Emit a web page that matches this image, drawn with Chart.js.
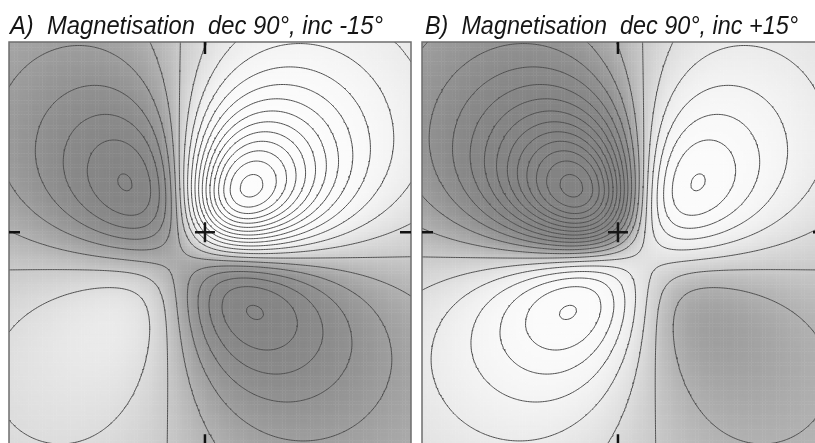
<!DOCTYPE html>
<html>
<head>
<meta charset="utf-8">
<script src="https://cdn.jsdelivr.net/npm/chart.js@4.4.1/dist/chart.umd.min.js"></script>
<style>
  html, body { margin: 0; padding: 0; background: #ffffff; overflow: hidden; width: 815px; height: 443px; }
  #sheet { position: relative; width: 815px; height: 443px; overflow: hidden; }
  .panel { position: absolute; top: 0; height: 443px; }
  #panelA { left: 0; width: 415px; }
  #panelB { left: 415px; width: 400px; }
</style>
</head>
<body>
<div id="sheet">
  <div class="panel" id="panelA"><canvas id="mapA" width="415" height="443"></canvas></div>
  <div class="panel" id="panelB"><canvas id="mapB" width="400" height="443"></canvas></div>
</div>
<script>
// Panel headings
const panelTitles = ['A)  Magnetisation  dec 90°, inc -15°', 'B)  Magnetisation  dec 90°, inc +15°'];

// Magnetisation direction of the buried dipole in each panel (degrees)
const magDeclination = [90, 90];
const magInclination = [-15, 15];

// Direction of the ambient (measured) field component (degrees)
const fieldDeclination = [0, 0];
const fieldInclination = [-15, -15];

// Dipole position on the map (m) and its depth below the surface (m)
const sourceEast = [0, 0];
const sourceNorth = [0, 0];
const sourceDepth = [100, 100];

// Dipole strength mu0*m/(4*pi), in nT·m³
const dipoleStrength = [2.3e8, 2.3e8];

// Map extent (m)
const eastRange = [-175, 184];
const northRange = [-191, 170];

// Contour levels of the total-field anomaly (nT)
const contourLevels = [-130, -120, -110, -100, -90, -80, -70, -60, -50, -40, -30, -20, -10,
                       0, 10, 20, 30, 40, 50, 60, 70, 80, 90, 100, 110, 120, 130];

// ---------------------------------------------------------------------------

// Map width on screen (px) sets the drawing scale shared by both panels
const MAP_WIDTH_PX = 402;
const PX_PER_M = MAP_WIDTH_PX / (eastRange[1] - eastRange[0]);

const RAD = Math.PI / 180;
// unit vector in (east, north, down)
function unitVector(dec, inc) {
  return [Math.cos(inc * RAD) * Math.sin(dec * RAD), Math.cos(inc * RAD) * Math.cos(dec * RAD), Math.sin(inc * RAD)];
}

// Total-field anomaly of a point dipole, projected on the ambient field direction
function anomaly(p, e, n) {
  const m = unitVector(magDeclination[p], magInclination[p]);
  const f = unitVector(fieldDeclination[p], fieldInclination[p]);
  const rx = e - sourceEast[p], ry = n - sourceNorth[p], rz = -sourceDepth[p];
  const r2 = rx * rx + ry * ry + rz * rz;
  const r = Math.sqrt(r2);
  const mr = m[0] * rx + m[1] * ry + m[2] * rz;
  const fr = f[0] * rx + f[1] * ry + f[2] * rz;
  const mf = m[0] * f[0] + m[1] * f[1] + m[2] * f[2];
  return dipoleStrength[p] * (3 * mr * fr - r2 * mf) / (r2 * r2 * r);
}

// grey scale: light for positive, darker for negative anomaly
function grey(v) {
  let g = v >= 0 ? 201 + 51 * Math.tanh(v / 25) : 201 - 70 * Math.tanh(-v / 28);
  g = Math.round(Math.max(0, Math.min(255, g)));
  return 'rgb(' + g + ',' + g + ',' + g + ')';
}

function axisSamples(range, step) {
  const span = range[1] - range[0];
  const count = Math.ceil(span / step) + 1;
  const out = [];
  for (let i = 0; i < count; i++) out.push(range[0] + span * i / (count - 1));
  return out;
}

// Marching squares: returns line segments separated by gaps
function contourPoints(grid, xs, ys, level) {
  const nx = xs.length, ny = ys.length;
  const pts = [];
  const gap = { x: null, y: null };
  for (let j = 0; j < ny - 1; j++) {
    for (let i = 0; i < nx - 1; i++) {
      const v0 = grid[j * nx + i], v1 = grid[j * nx + i + 1];
      const v2 = grid[(j + 1) * nx + i + 1], v3 = grid[(j + 1) * nx + i];
      let idx = 0;
      if (v0 > level) idx |= 1;
      if (v1 > level) idx |= 2;
      if (v2 > level) idx |= 4;
      if (v3 > level) idx |= 8;
      if (idx === 0 || idx === 15) continue;
      const x0 = xs[i], x1 = xs[i + 1], y0 = ys[j], y1 = ys[j + 1];
      const edge = (k) => {
        if (k === 0) { const t = (level - v0) / (v1 - v0); return { x: x0 + t * (x1 - x0), y: y0 }; }
        if (k === 1) { const t = (level - v1) / (v2 - v1); return { x: x1, y: y0 + t * (y1 - y0) }; }
        if (k === 2) { const t = (level - v3) / (v2 - v3); return { x: x0 + t * (x1 - x0), y: y1 }; }
        const t = (level - v0) / (v3 - v0); return { x: x0, y: y0 + t * (y1 - y0) };
      };
      let pairs;
      switch (idx) {
        case 1: case 14: pairs = [[3, 0]]; break;
        case 2: case 13: pairs = [[0, 1]]; break;
        case 3: case 12: pairs = [[3, 1]]; break;
        case 4: case 11: pairs = [[1, 2]]; break;
        case 6: case 9: pairs = [[0, 2]]; break;
        case 7: case 8: pairs = [[2, 3]]; break;
        case 5: {
          const c = (v0 + v1 + v2 + v3) / 4 > level;
          pairs = c ? [[0, 1], [2, 3]] : [[3, 0], [1, 2]];
          break;
        }
        case 10: {
          const c = (v0 + v1 + v2 + v3) / 4 > level;
          pairs = c ? [[3, 0], [1, 2]] : [[0, 1], [2, 3]];
          break;
        }
      }
      for (const [a, b] of pairs) {
        pts.push(edge(a), edge(b), gap);
      }
    }
  }
  return pts;
}

// heading drawn above each map
const panelHeading = {
  id: 'panelHeading',
  afterDraw(chart, args, opts) {
    const ctx = chart.ctx;
    ctx.save();
    ctx.font = 'italic 26px "Liberation Sans", Arial, sans-serif';
    ctx.fillStyle = '#151515';
    ctx.textBaseline = 'alphabetic';
    const w = ctx.measureText(opts.text).width;
    ctx.translate(opts.x, opts.y);
    ctx.scale(opts.width / w, 1);
    ctx.fillText(opts.text, 0, 0);
    ctx.restore();
  }
};

// map frame and the edge ticks marking the dipole's position
const mapFrame = {
  id: 'mapFrame',
  afterDatasetsDraw(chart, args, opts) {
    const ctx = chart.ctx;
    const sx = chart.scales.x, sy = chart.scales.y;
    const left = sx.getPixelForValue(eastRange[0]);
    const right = sx.getPixelForValue(eastRange[1]);
    const top = sy.getPixelForValue(northRange[1]);
    const bottom = sy.getPixelForValue(northRange[0]);
    const cx = sx.getPixelForValue(opts.east);
    const cy = sy.getPixelForValue(opts.north);
    ctx.save();
    ctx.strokeStyle = '#6e6e6e';
    ctx.lineWidth = 1.5;
    ctx.strokeRect(left, top, right - left, bottom - top);
    ctx.strokeStyle = '#111111';
    ctx.lineWidth = 2.5;
    ctx.beginPath();
    ctx.moveTo(cx, top); ctx.lineTo(cx, top + 12);
    ctx.moveTo(cx, bottom); ctx.lineTo(cx, bottom - 12);
    ctx.moveTo(left, cy); ctx.lineTo(left + 11, cy);
    ctx.moveTo(right, cy); ctx.lineTo(right - 11, cy);
    ctx.stroke();
    ctx.restore();
  }
};

function buildPanel(p, canvasId, padding) {
  const canvas = document.getElementById(canvasId);
  // visible part of the map inside this canvas
  const areaW = canvas.width - padding.left - padding.right;
  const areaH = canvas.height - padding.top - padding.bottom;
  const viewEast = [eastRange[0], eastRange[0] + areaW / PX_PER_M];
  const viewNorth = [northRange[1] - areaH / PX_PER_M, northRange[1]];

  // shaded cells
  const cellStep = 2.5;
  const cellXs = axisSamples(eastRange, cellStep);
  const cellYs = axisSamples(northRange, cellStep);
  const cells = [], cellColors = [];
  for (let j = 0; j < cellYs.length - 1; j++) {
    const n = (cellYs[j] + cellYs[j + 1]) / 2;
    for (let i = 0; i < cellXs.length - 1; i++) {
      const e = (cellXs[i] + cellXs[i + 1]) / 2;
      cells.push({ x: e, y: n });
      cellColors.push(grey(anomaly(p, e, n)));
    }
  }

  // contour grid
  const xs = axisSamples(eastRange, 1.5);
  const ys = axisSamples(northRange, 1.5);
  const grid = new Float64Array(xs.length * ys.length);
  for (let j = 0; j < ys.length; j++)
    for (let i = 0; i < xs.length; i++)
      grid[j * xs.length + i] = anomaly(p, xs[i], ys[j]);

  const datasets = [];
  datasets.push({
    label: 'source',
    data: [{ x: sourceEast[p], y: sourceNorth[p] }],
    pointStyle: 'cross',
    pointRadius: 10,
    pointBorderWidth: 2.5,
    pointBorderColor: '#161616',
    clip: false,
    order: 0
  });
  for (const level of contourLevels) {
    const pts = contourPoints(grid, xs, ys, level);
    if (!pts.length) continue;
    datasets.push({
      label: level + ' nT',
      data: pts,
      showLine: true,
      borderColor: '#505050',
      borderWidth: 1,
      pointRadius: 0,
      tension: 0,
      clip: 0,
      order: 1
    });
  }
  datasets.push({
    label: 'anomaly',
    data: cells,
    pointStyle: 'rect',
    pointRadius: 2.3,
    pointBorderWidth: 0,
    pointBackgroundColor: cellColors,
    clip: 0,
    order: 2
  });

  new Chart(canvas, {
    type: 'scatter',
    data: { datasets },
    options: {
      responsive: false,
      animation: false,
      events: [],
      layout: { padding, autoPadding: false },
      scales: {
        x: { type: 'linear', min: viewEast[0], max: viewEast[1], display: false },
        y: { type: 'linear', min: viewNorth[0], max: viewNorth[1], display: false }
      },
      plugins: {
        legend: { display: false },
        tooltip: { enabled: false },
        panelHeading: { text: panelTitles[p], x: 10, y: 34, width: 373 },
        mapFrame: { east: sourceEast[p], north: sourceNorth[p] }
      }
    },
    plugins: [panelHeading, mapFrame]
  });
}

buildPanel(0, 'mapA', { left: 9, top: 42, right: 4, bottom: 0 });
buildPanel(1, 'mapB', { left: 7, top: 42, right: 0, bottom: 0 });
</script>
</body>
</html>
